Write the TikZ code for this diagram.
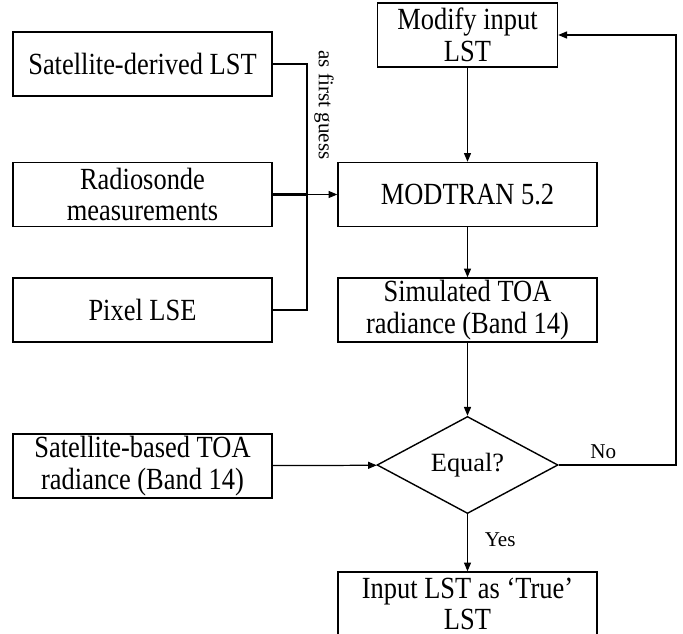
\documentclass[tikz,border=0pt]{standalone}
\usepackage{fontspec}
\setmainfont{Liberation Serif}
\newfontfamily\boxfont{Liberation Serif}[FakeStretch=0.86]
\usetikzlibrary{arrows.meta, shapes.geometric, positioning}
\tikzset{
  blk/.style={
    rectangle, draw=black, fill=white,
    font=\boxfont\fontsize{17.5}{18}\selectfont, align=center,
    inner sep=0pt, minimum width=5.18cm, minimum height=1.28cm,
    line width=0.8pt,
  },
  dmd/.style={
    diamond, draw=black, fill=white,
    font=\fontsize{15}{18}\selectfont, align=center,
    inner sep=0pt, minimum width=3.62cm, minimum height=1.68cm,
    line width=0.8pt,
  },
  arr/.style={
    -{Triangle[length=5pt,width=4pt]},
    line width=0.7pt,
  },
  bus/.style={
    line width=1.2pt,
  },
  lbl/.style={
    font=\fontsize{12}{14}\selectfont, inner sep=1pt,
  },
}

\begin{document}
\begin{tikzpicture}[x=1cm,y=1cm]
    \useasboundingbox (0,0) rectangle (13.66,-12.68);

    % inputs on the left
    \node[blk] (sld) at (2.85,-1.28) {Satellite-derived LST};
    \node[blk] (rad) at (2.85,-3.89) {Radiosonde\\measurements};
    \node[blk] (lse) at (2.85,-6.20) {Pixel LSE};
    \node[blk] (sbt) at (2.85,-9.32) {Satellite-based TOA\\radiance (Band 14)};

    % main chain
    \node[blk,minimum width=3.6cm] (mod) at (9.35,-0.70) {Modify input\\LST};
    \node[blk] (mtr) at (9.35,-3.89) {MODTRAN 5.2};
    \node[blk] (sim) at (9.35,-6.20) {Simulated TOA\\radiance (Band 14)};
    \node[dmd] (eq)  at (9.35,-9.30) {Equal?};
    \node[blk] (tru) at (9.35,-12.08) {Input LST as ‘True’\\LST};

    \coordinate (bus)  at (6.14,-3.89);
    \coordinate (loop) at (13.52,-0.70);
    \node[lbl,rotate=-90] (guess) at (6.48,-2.10) {as first guess};

    \draw[bus] (sld.east) -| (bus);
    \draw[bus] (lse.east) -| (bus);
    \draw[bus] (rad.east) -- (bus);
    \draw[arr] (bus) -- (mtr.west);

    \draw[arr] (mod) -- (mtr);
    \draw[arr] (mtr) -- (sim);
    \draw[arr] (sim) -- (eq);
    \draw[arr] (sbt) -- (eq);
    \draw[arr] (eq) -- node[lbl,pos=0.45,anchor=west,xshift=0.3cm] {Yes} (tru);
    \draw[arr] (eq.east) -- node[lbl,pos=0.38,above=2pt] {No} (eq.east -| loop)
               |- (mod.east);

  \end{tikzpicture}
\end{document}
